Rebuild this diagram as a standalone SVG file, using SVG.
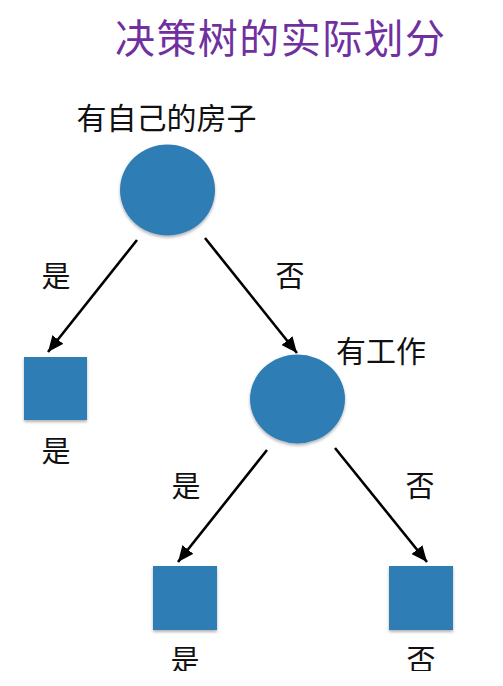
<svg xmlns="http://www.w3.org/2000/svg" width="503" height="686" viewBox="0 0 503 686">
<style>
.t{font-family:"Noto Sans CJK SC","Noto Sans",sans-serif;fill:#111;text-anchor:middle}
.n{fill:#2f7db5;filter:url(#sh)}
.e{stroke:#000;stroke-width:2.6;fill:none;marker-end:url(#ah)}
</style>
<defs>
<marker id="ah" markerUnits="userSpaceOnUse" markerWidth="18" markerHeight="16" refX="16" refY="7" orient="auto">
<path d="M0,0 L16,7 L0,14 Z" fill="#000"/>
</marker>
<filter id="sh" x="-20%" y="-20%" width="140%" height="140%">
<feDropShadow dx="0" dy="2" stdDeviation="1.5" flood-color="#000" flood-opacity="0.3"/>
</filter>
<clipPath id="cl"><rect x="0" y="0" width="503" height="671"/></clipPath>
</defs>
<rect width="503" height="686" fill="#fff"/>
<text x="280" y="53" font-family="'Noto Sans CJK SC',sans-serif" font-size="40" fill="#7030a0" text-anchor="middle" textLength="330">决策树的实际划分</text>
<g id="connectors">
<line class="e" x1="137" y1="240" x2="48" y2="352"/>
<line class="e" x1="205" y1="238" x2="297" y2="353"/>
<line class="e" x1="267" y1="450" x2="178" y2="562"/>
<line class="e" x1="335" y1="448" x2="427" y2="562"/>
<text class="t" x="56" y="287" font-size="29">是</text>
<text class="t" x="290" y="287" font-size="29">否</text>
<text class="t" x="186" y="497" font-size="29">是</text>
<text class="t" x="420" y="497" font-size="29">否</text>
</g>
<g id="root">
<ellipse class="n" cx="167.5" cy="190" rx="47.5" ry="45.5"/>
<text class="t" x="166.5" y="129" font-size="30">有自己的房子</text>
</g>
<g id="leaf1">
<rect class="n" x="24" y="357" width="63" height="63"/>
<text class="t" x="56" y="462" font-size="29">是</text>
</g>
<g id="work">
<ellipse class="n" cx="297.5" cy="399" rx="47.5" ry="44.5"/>
<text class="t" x="381" y="362" font-size="30">有工作</text>
</g>
<g id="leaf2" clip-path="url(#cl)">
<rect class="n" x="153" y="566" width="64" height="64"/>
<text class="t" x="185" y="671" font-size="29">是</text>
</g>
<g id="leaf3" clip-path="url(#cl)">
<rect class="n" x="389" y="566" width="64" height="64"/>
<text class="t" x="421" y="671" font-size="29">否</text>
</g>
</svg>
